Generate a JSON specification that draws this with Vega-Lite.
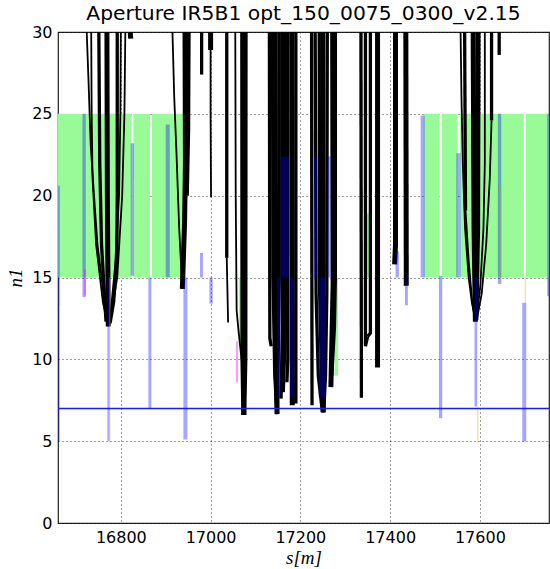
{
  "$schema": "https://vega.github.io/schema/vega-lite/v6.json",
  "width": 491,
  "height": 491,
  "autosize": {"type": "none"},
  "padding": {"left": 58, "top": 32, "right": 1, "bottom": 46},
  "background": "white",
  "title": {"text": "Aperture IR5B1 opt_150_0075_0300_v2.15", "font": "DejaVu Sans", "fontSize": 20.3, "fontWeight": "normal", "color": "#000", "anchor": "middle", "baseline": "alphabetic", "offset": -16},
  "config": {
    "view": {"stroke": "#222", "strokeWidth": 1.2},
    "axis": {"grid": true, "gridDash": [1, 3], "gridColor": "#000", "gridOpacity": 0.75, "gridWidth": 1, "domain": false, "ticks": false, "labelFont": "DejaVu Sans", "labelFontSize": 16, "labelColor": "#000", "titleFont": "Liberation Serif", "titleFontStyle": "italic", "titleFontWeight": "normal", "titleFontSize": 19, "titleColor": "#000", "zindex": 1}
  },
  "datasets": {
    "green": [
      {"s1": 16655, "s2": 16824, "lo": 15, "hi": 25},
      {"s1": 16828, "s2": 16865, "lo": 15, "hi": 25},
      {"s1": 16869, "s2": 16944, "lo": 15, "hi": 25},
      {"s1": 17475, "s2": 17510, "lo": 15, "hi": 25},
      {"s1": 17515, "s2": 17550, "lo": 15, "hi": 25},
      {"s1": 17556, "s2": 17698, "lo": 15, "hi": 25},
      {"s1": 17702, "s2": 17760, "lo": 15, "hi": 25},
      {"s1": 17063, "s2": 17068.5, "lo": 11.1, "hi": 15},
      {"s1": 17131.6, "s2": 17137.6, "lo": 15, "hi": 21.1},
      {"s1": 17276, "s2": 17283.7, "lo": 9.0, "hi": 15},
      {"s1": 17347.6, "s2": 17354, "lo": 15, "hi": 18.9}
    ],
    "thin": [
      {"c": "a1", "k": 0, "s": 16724, "n1": 30}, {"c": "a1", "k": 1, "s": 16728, "n1": 27}, {"c": "a1", "k": 2, "s": 16733, "n1": 23}, {"c": "a1", "k": 3, "s": 16740, "n1": 20.1}, {"c": "a1", "k": 4, "s": 16748, "n1": 17}, {"c": "a1", "k": 5, "s": 16757, "n1": 15}, {"c": "a1", "k": 6, "s": 16764, "n1": 13.3}, {"c": "a1", "k": 7, "s": 16770, "n1": 12.3},
      {"c": "a2", "k": 0, "s": 16734, "n1": 30}, {"c": "a2", "k": 1, "s": 16735, "n1": 25}, {"c": "a2", "k": 2, "s": 16737, "n1": 21}, {"c": "a2", "k": 3, "s": 16745, "n1": 17}, {"c": "a2", "k": 4, "s": 16760, "n1": 13.5}, {"c": "a2", "k": 5, "s": 16771, "n1": 12.1},
      {"c": "a3", "k": 0, "s": 16810, "n1": 30}, {"c": "a3", "k": 1, "s": 16808, "n1": 25}, {"c": "a3", "k": 2, "s": 16803, "n1": 20}, {"c": "a3", "k": 3, "s": 16792, "n1": 15}, {"c": "a3", "k": 4, "s": 16776, "n1": 12.3},
      {"c": "a4", "k": 0, "s": 16800, "n1": 30}, {"c": "a4", "k": 1, "s": 16799, "n1": 25}, {"c": "a4", "k": 2, "s": 16796, "n1": 20}, {"c": "a4", "k": 3, "s": 16787, "n1": 15.6}, {"c": "a4", "k": 4, "s": 16775, "n1": 12.2},
      {"c": "d1", "k": 0, "s": 16915, "n1": 30}, {"c": "d1", "k": 1, "s": 16919, "n1": 26}, {"c": "d1", "k": 2, "s": 16924, "n1": 22.6}, {"c": "d1", "k": 3, "s": 16930, "n1": 18}, {"c": "d1", "k": 4, "s": 16937, "n1": 14.3},
      {"c": "e2", "k": 0, "s": 17000, "n1": 30}, {"c": "e2", "k": 1, "s": 17000, "n1": 25}, {"c": "e2", "k": 2, "s": 17001, "n1": 19.9},
      {"c": "e3", "k": 0, "s": 17036, "n1": 16.2}, {"c": "e3", "k": 1, "s": 17039, "n1": 12.25},
      {"c": "e4", "k": 0, "s": 17055, "n1": 30}, {"c": "e4", "k": 1, "s": 17056, "n1": 20}, {"c": "e4", "k": 2, "s": 17058, "n1": 13}, {"c": "e4", "k": 3, "s": 17062, "n1": 11.8}, {"c": "e4", "k": 4, "s": 17067, "n1": 10.5}, {"c": "e4", "k": 5, "s": 17071, "n1": 9.6},
      {"c": "j1", "k": 0, "s": 17557, "n1": 30}, {"c": "j1", "k": 1, "s": 17559, "n1": 26}, {"c": "j1", "k": 2, "s": 17562, "n1": 22}, {"c": "j1", "k": 3, "s": 17567, "n1": 18}, {"c": "j1", "k": 4, "s": 17575, "n1": 15}, {"c": "j1", "k": 5, "s": 17582, "n1": 13.5}, {"c": "j1", "k": 6, "s": 17590, "n1": 12.35},
      {"c": "j2", "k": 0, "s": 17568, "n1": 19.1}, {"c": "j2", "k": 1, "s": 17575, "n1": 16}, {"c": "j2", "k": 2, "s": 17583, "n1": 13.5}, {"c": "j2", "k": 3, "s": 17590, "n1": 12.4},
      {"c": "j5", "k": 0, "s": 17611, "n1": 30}, {"c": "j5", "k": 1, "s": 17611, "n1": 22}, {"c": "j5", "k": 2, "s": 17608, "n1": 18}, {"c": "j5", "k": 3, "s": 17601, "n1": 14.5}, {"c": "j5", "k": 4, "s": 17592, "n1": 12.4},
      {"c": "j6", "k": 0, "s": 17626, "n1": 24.6}, {"c": "j6", "k": 1, "s": 17622, "n1": 21}, {"c": "j6", "k": 2, "s": 17614, "n1": 17}, {"c": "j6", "k": 3, "s": 17604, "n1": 14}, {"c": "j6", "k": 4, "s": 17593, "n1": 12.4}
    ],
    "mid": [
      {"c": "a5", "k": 0, "s": 16751, "n1": 30}, {"c": "a5", "k": 1, "s": 16753, "n1": 22}, {"c": "a5", "k": 2, "s": 16757, "n1": 17}, {"c": "a5", "k": 3, "s": 16767, "n1": 12.3},
      {"c": "a6", "k": 0, "s": 16792, "n1": 30}, {"c": "a6", "k": 1, "s": 16792, "n1": 20}, {"c": "a6", "k": 2, "s": 16791, "n1": 16.2}, {"c": "a6", "k": 3, "s": 16784, "n1": 13.5}, {"c": "a6", "k": 4, "s": 16776, "n1": 12.2},
      {"c": "e1", "k": 0, "s": 16980, "n1": 30}, {"c": "e1", "k": 1, "s": 16980, "n1": 27.4},
      {"c": "e3", "k": 0, "s": 17036, "n1": 30}, {"c": "e3", "k": 1, "s": 17036, "n1": 16.2},
      {"c": "f1", "k": 0, "s": 17131, "n1": 30}, {"c": "f1", "k": 1, "s": 17132, "n1": 11.3}, {"c": "f1", "k": 2, "s": 17135, "n1": 10.8},
      {"c": "f2", "k": 0, "s": 17138, "n1": 30}, {"c": "f2", "k": 1, "s": 17139, "n1": 15}, {"c": "f2", "k": 2, "s": 17143, "n1": 9}, {"c": "f2", "k": 3, "s": 17148, "n1": 6.65},
      {"c": "f4", "k": 0, "s": 17153, "n1": 30}, {"c": "f4", "k": 1, "s": 17153, "n1": 15}, {"c": "f4", "k": 2, "s": 17149, "n1": 6.7},
      {"c": "f5", "k": 0, "s": 17160, "n1": 30}, {"c": "f5", "k": 1, "s": 17160, "n1": 12}, {"c": "f5", "k": 2, "s": 17157, "n1": 7.6},
      {"c": "f7", "k": 0, "s": 17172, "n1": 30}, {"c": "f7", "k": 1, "s": 17172, "n1": 10}, {"c": "f7", "k": 2, "s": 17170, "n1": 8.6},
      {"c": "f9", "k": 0, "s": 17190, "n1": 30}, {"c": "f9", "k": 1, "s": 17190, "n1": 7.3},
      {"c": "g1", "k": 0, "s": 17225, "n1": 30}, {"c": "g1", "k": 1, "s": 17226, "n1": 7.2},
      {"c": "g2", "k": 0, "s": 17233, "n1": 30}, {"c": "g2", "k": 1, "s": 17235, "n1": 14}, {"c": "g2", "k": 2, "s": 17240, "n1": 9}, {"c": "g2", "k": 3, "s": 17249, "n1": 6.8},
      {"c": "g3", "k": 0, "s": 17242, "n1": 30}, {"c": "g3", "k": 1, "s": 17243, "n1": 14}, {"c": "g3", "k": 2, "s": 17247, "n1": 9}, {"c": "g3", "k": 3, "s": 17251, "n1": 6.75},
      {"c": "g5", "k": 0, "s": 17260, "n1": 30}, {"c": "g5", "k": 1, "s": 17259, "n1": 14}, {"c": "g5", "k": 2, "s": 17256, "n1": 9}, {"c": "g5", "k": 3, "s": 17252, "n1": 6.8},
      {"c": "g7", "k": 0, "s": 17278, "n1": 30}, {"c": "g7", "k": 1, "s": 17278, "n1": 15}, {"c": "g7", "k": 2, "s": 17276, "n1": 12}, {"c": "g7", "k": 3, "s": 17270, "n1": 9},
      {"c": "h1", "k": 0, "s": 17335, "n1": 30}, {"c": "h1", "k": 1, "s": 17336, "n1": 7.65},
      {"c": "h2", "k": 0, "s": 17345, "n1": 30}, {"c": "h2", "k": 1, "s": 17345, "n1": 10.8}, {"c": "h2", "k": 2, "s": 17350, "n1": 11.4},
      {"c": "h3", "k": 0, "s": 17356, "n1": 30}, {"c": "h3", "k": 1, "s": 17356, "n1": 11.6}, {"c": "h3", "k": 2, "s": 17350, "n1": 11.4},
      {"c": "j2", "k": 0, "s": 17566, "n1": 30}, {"c": "j2", "k": 1, "s": 17568, "n1": 19.1},
      {"c": "j6", "k": 0, "s": 17626, "n1": 30}, {"c": "j6", "k": 1, "s": 17626, "n1": 24.6},
      {"c": "j7", "k": 0, "s": 17643, "n1": 30}, {"c": "j7", "k": 1, "s": 17643, "n1": 28.6}
    ],
    "thick": [
      {"c": "a7", "k": 0, "s": 16769, "n1": 30}, {"c": "a7", "k": 1, "s": 16770, "n1": 20}, {"c": "a7", "k": 2, "s": 16772, "n1": 12.0},
      {"c": "a8", "k": 0, "s": 16821, "n1": 30}, {"c": "a8", "k": 1, "s": 16822, "n1": 29.6},
      {"c": "d2", "k": 0, "s": 16943, "n1": 30}, {"c": "d2", "k": 1, "s": 16944, "n1": 22}, {"c": "d2", "k": 2, "s": 16942, "n1": 18.3}, {"c": "d2", "k": 3, "s": 16937, "n1": 14.3},
      {"c": "d3", "k": 0, "s": 16950, "n1": 30}, {"c": "d3", "k": 1, "s": 16949, "n1": 24}, {"c": "d3", "k": 2, "s": 16946, "n1": 20},
      {"c": "e2b", "k": 0, "s": 17000, "n1": 30}, {"c": "e2b", "k": 1, "s": 17000, "n1": 28.9},
      {"c": "e5", "k": 0, "s": 17071.5, "n1": 30}, {"c": "e5", "k": 1, "s": 17072, "n1": 10}, {"c": "e5", "k": 2, "s": 17074, "n1": 6.6},
      {"c": "e6", "k": 0, "s": 17077, "n1": 30}, {"c": "e6", "k": 1, "s": 17076.5, "n1": 10}, {"c": "e6", "k": 2, "s": 17074, "n1": 6.6},
      {"c": "f3", "k": 0, "s": 17144, "n1": 30}, {"c": "f3", "k": 1, "s": 17145, "n1": 12}, {"c": "f3", "k": 2, "s": 17148, "n1": 6.65},
      {"c": "f6", "k": 0, "s": 17166, "n1": 30}, {"c": "f6", "k": 1, "s": 17165, "n1": 12}, {"c": "f6", "k": 2, "s": 17160, "n1": 8},
      {"c": "f8", "k": 0, "s": 17181, "n1": 30}, {"c": "f8", "k": 1, "s": 17182, "n1": 7.2},
      {"c": "g4", "k": 0, "s": 17250, "n1": 30}, {"c": "g4", "k": 1, "s": 17251, "n1": 6.75},
      {"c": "g6", "k": 0, "s": 17272, "n1": 30}, {"c": "g6", "k": 1, "s": 17273, "n1": 14.6}, {"c": "g6", "k": 2, "s": 17268, "n1": 8.3},
      {"c": "h4", "k": 0, "s": 17372, "n1": 30}, {"c": "h4", "k": 1, "s": 17372, "n1": 9.5},
      {"c": "i1", "k": 0, "s": 17412, "n1": 30}, {"c": "i1", "k": 1, "s": 17412, "n1": 17}, {"c": "i1", "k": 2, "s": 17410, "n1": 15.8},
      {"c": "i2", "k": 0, "s": 17435, "n1": 30}, {"c": "i2", "k": 1, "s": 17436, "n1": 14.5},
      {"c": "j3", "k": 0, "s": 17585, "n1": 30}, {"c": "j3", "k": 1, "s": 17587, "n1": 18}, {"c": "j3", "k": 2, "s": 17590, "n1": 12.3},
      {"c": "j4", "k": 0, "s": 17596, "n1": 30}, {"c": "j4", "k": 1, "s": 17595, "n1": 18}, {"c": "j4", "k": 2, "s": 17591, "n1": 12.4}
    ],
    "blue": [
      {"s1": 16657, "s2": 16664, "lo": 5.0, "hi": 20.6},
      {"s1": 16714.5, "s2": 16721.8, "lo": 13.8, "hi": 25},
      {"s1": 16822, "s2": 16829.4, "lo": 15.1, "hi": 23.2},
      {"s1": 16900, "s2": 16909, "lo": 15, "hi": 24.35},
      {"s1": 16770, "s2": 16775, "lo": 5.0, "hi": 15},
      {"s1": 16861.4, "s2": 16868, "lo": 7.0, "hi": 15},
      {"s1": 16939.4, "s2": 16948.3, "lo": 5.1, "hi": 15},
      {"s1": 16976.4, "s2": 16983, "lo": 15, "hi": 16.5},
      {"s1": 16997.3, "s2": 17004.6, "lo": 13.4, "hi": 15},
      {"s1": 17156, "s2": 17174, "lo": 15, "hi": 22.4},
      {"s1": 17148, "s2": 17155.5, "lo": 7.65, "hi": 15},
      {"s1": 17176.8, "s2": 17184, "lo": 7.65, "hi": 15},
      {"s1": 17230, "s2": 17237.8, "lo": 15, "hi": 22.4},
      {"s1": 17260, "s2": 17267.5, "lo": 15, "hi": 22.4},
      {"s1": 17240.7, "s2": 17256, "lo": 7.65, "hi": 15},
      {"s1": 17412, "s2": 17419.6, "lo": 15, "hi": 16.6},
      {"s1": 17433, "s2": 17439.6, "lo": 13.3, "hi": 15},
      {"s1": 17468, "s2": 17477, "lo": 15, "hi": 24.9},
      {"s1": 17508.7, "s2": 17516.2, "lo": 6.4, "hi": 15.1},
      {"s1": 17547.4, "s2": 17557, "lo": 15, "hi": 22.6},
      {"s1": 17588, "s2": 17594, "lo": 7.12, "hi": 15},
      {"s1": 17640, "s2": 17647.6, "lo": 14.6, "hi": 25},
      {"s1": 17694.4, "s2": 17703.3, "lo": 4.98, "hi": 13.45},
      {"s1": 17750, "s2": 17760, "lo": 13.86, "hi": 25}
    ],
    "pink": [
      {"s1": 16718, "s2": 16722, "lo": 13.9, "hi": 15.5},
      {"s1": 17056.5, "s2": 17061, "lo": 8.6, "hi": 11.1}
    ],
    "yellow": [
      {"s": 16664, "lo": 13.3, "hi": 15},
      {"s": 16775.5, "lo": 4.9, "hi": 15},
      {"s": 16828, "lo": 15.1, "hi": 21.0},
      {"s": 17595.5, "lo": 4.88, "hi": 7.12},
      {"s": 17647, "lo": 14.6, "hi": 20.6},
      {"s": 17701, "lo": 13.45, "hi": 15}
    ],
    "limit": [{"n1": 7.0}]
  },
  "encoding": {
    "x": {"type": "quantitative", "scale": {"domain": [16660, 17754], "nice": false, "zero": false}, "axis": {"title": "s[m]", "format": "d", "values": [16800, 17000, 17200, 17400, 17600], "labelPadding": 6, "titlePadding": 3}},
    "y": {"type": "quantitative", "scale": {"domain": [0, 30], "nice": false, "zero": false}, "axis": {"title": "n1", "values": [0, 5, 10, 15, 20, 25, 30], "labelPadding": 6, "titlePadding": 6}}
  },
  "layer": [
    {"data": {"name": "green"}, "mark": {"type": "rect", "color": "#98fb98", "clip": true},
     "encoding": {"x": {"field": "s1", "type": "quantitative"}, "x2": {"field": "s2"}, "y": {"field": "lo", "type": "quantitative"}, "y2": {"field": "hi"}}},
    {"data": {"name": "thin"}, "mark": {"type": "line", "color": "#000", "strokeWidth": 1.8, "clip": true},
     "encoding": {"x": {"field": "s", "type": "quantitative"}, "y": {"field": "n1", "type": "quantitative"}, "detail": {"field": "c"}, "order": {"field": "k"}}},
    {"data": {"name": "mid"}, "mark": {"type": "line", "color": "#000", "strokeWidth": 3.3, "clip": true},
     "encoding": {"x": {"field": "s", "type": "quantitative"}, "y": {"field": "n1", "type": "quantitative"}, "detail": {"field": "c"}, "order": {"field": "k"}}},
    {"data": {"name": "thick"}, "mark": {"type": "line", "color": "#000", "strokeWidth": 5, "clip": true},
     "encoding": {"x": {"field": "s", "type": "quantitative"}, "y": {"field": "n1", "type": "quantitative"}, "detail": {"field": "c"}, "order": {"field": "k"}}},
    {"data": {"name": "blue"}, "mark": {"type": "rect", "color": "#0000ff", "opacity": 0.35, "clip": true},
     "encoding": {"x": {"field": "s1", "type": "quantitative"}, "x2": {"field": "s2"}, "y": {"field": "lo", "type": "quantitative"}, "y2": {"field": "hi"}}},
    {"data": {"name": "pink"}, "mark": {"type": "rect", "color": "#ff00ff", "opacity": 0.4, "clip": true},
     "encoding": {"x": {"field": "s1", "type": "quantitative"}, "x2": {"field": "s2"}, "y": {"field": "lo", "type": "quantitative"}, "y2": {"field": "hi"}}},
    {"data": {"name": "yellow"}, "mark": {"type": "rule", "color": "#d4c000", "opacity": 0.55, "strokeWidth": 1, "clip": true},
     "encoding": {"x": {"field": "s", "type": "quantitative"}, "y": {"field": "lo", "type": "quantitative"}, "y2": {"field": "hi"}}},
    {"data": {"name": "limit"}, "mark": {"type": "rule", "color": "#1a1aff", "strokeWidth": 1.5, "clip": true},
     "encoding": {"y": {"field": "n1", "type": "quantitative"}}}
  ]
}
